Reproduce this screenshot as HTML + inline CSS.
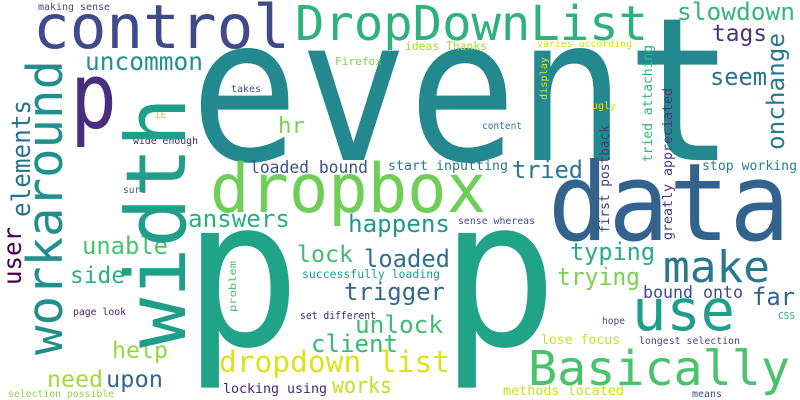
<!DOCTYPE html>
<html><head><meta charset="utf-8"><style>
html,body{margin:0;padding:0;background:#fff}
svg{display:block}
text{font-family:"DejaVu Sans Mono","Liberation Mono",monospace}
</style></head><body>
<svg width="800" height="400" viewBox="0 0 800 400" xmlns="http://www.w3.org/2000/svg">
<rect width="800" height="400" fill="#fff"/>
<g>
<text x="190" y="160" font-size="200" fill="#23898e" textLength="545" lengthAdjust="spacingAndGlyphs">event</text>
<text x="183" y="345" font-size="205" fill="#20a386" textLength="118" lengthAdjust="spacingAndGlyphs">p</text>
<text x="440" y="345" font-size="205" fill="#20a386" textLength="118" lengthAdjust="spacingAndGlyphs">p</text>
<text x="70" y="128" font-size="92" fill="#472f7d" textLength="47" lengthAdjust="spacingAndGlyphs">p</text>
<text x="548" y="240" font-size="108" fill="#33638d" textLength="242" lengthAdjust="spacingAndGlyphs">data</text>
<text x="33" y="48" font-size="61" fill="#3e4a89" textLength="257" lengthAdjust="spacingAndGlyphs">control</text>
<text x="295" y="40" font-size="48" fill="#2db27d" textLength="353" lengthAdjust="spacingAndGlyphs">DropDownList</text>
<text x="677" y="20" font-size="24" fill="#35b779" textLength="118" lengthAdjust="spacingAndGlyphs">slowdown</text>
<text x="712" y="41" font-size="23" fill="#46337e" textLength="55" lengthAdjust="spacingAndGlyphs">tags</text>
<text x="710" y="85" font-size="24" fill="#2c728e" textLength="57" lengthAdjust="spacingAndGlyphs">seem</text>
<text x="405" y="50" font-size="11.5" fill="#a0da39" textLength="82" lengthAdjust="spacingAndGlyphs">ideas Thanks</text>
<text x="537" y="47" font-size="10" fill="#d0e11c" textLength="95" lengthAdjust="spacingAndGlyphs">varies according</text>
<text x="592" y="109" font-size="10" fill="#d8e219" textLength="24" lengthAdjust="spacingAndGlyphs">ugly</text>
<text x="482" y="129" font-size="9.5" fill="#2a768e" textLength="40" lengthAdjust="spacingAndGlyphs">content</text>
<text x="702" y="170" font-size="13" fill="#287d8e" textLength="95" lengthAdjust="spacingAndGlyphs">stop working</text>
<text x="512" y="178" font-size="24" fill="#2a788e" textLength="71" lengthAdjust="spacingAndGlyphs">tried</text>
<text x="388" y="170" font-size="13.3" fill="#2a788e" textLength="120" lengthAdjust="spacingAndGlyphs">start inputting</text>
<text x="250" y="173" font-size="16.4" fill="#3b528b" textLength="118" lengthAdjust="spacingAndGlyphs">loaded bound</text>
<text x="231" y="92" font-size="10" fill="#3e4c8a" textLength="30" lengthAdjust="spacingAndGlyphs">takes</text>
<text x="335" y="65" font-size="10.5" fill="#7ad151" textLength="47" lengthAdjust="spacingAndGlyphs">Firefox</text>
<text x="155" y="118" font-size="10" fill="#a5db36" textLength="11" lengthAdjust="spacingAndGlyphs">IE</text>
<text x="133" y="144" font-size="10" fill="#482475" textLength="65" lengthAdjust="spacingAndGlyphs">wide enough</text>
<text x="123" y="193" font-size="9.5" fill="#3b528b" textLength="23" lengthAdjust="spacingAndGlyphs">sure</text>
<text x="38" y="10" font-size="10" fill="#414487" textLength="72" lengthAdjust="spacingAndGlyphs">making sense</text>
<text x="85" y="70" font-size="24.5" fill="#21918c" textLength="118" lengthAdjust="spacingAndGlyphs">uncommon</text>
<text x="278" y="133" font-size="22" fill="#7ad151" textLength="27" lengthAdjust="spacingAndGlyphs">hr</text>
<text x="210" y="212" font-size="68" fill="#6ece58" textLength="276" lengthAdjust="spacingAndGlyphs">dropbox</text>
<text x="188" y="227" font-size="24" fill="#29af7f" textLength="102" lengthAdjust="spacingAndGlyphs">answers</text>
<text x="348" y="232" font-size="24" fill="#1f988b" textLength="102" lengthAdjust="spacingAndGlyphs">happens</text>
<text x="82" y="254" font-size="24" fill="#4ac16d" textLength="86" lengthAdjust="spacingAndGlyphs">unable</text>
<text x="297" y="262" font-size="23" fill="#3fbc73" textLength="56" lengthAdjust="spacingAndGlyphs">lock</text>
<text x="364" y="267" font-size="24" fill="#2c728e" textLength="86" lengthAdjust="spacingAndGlyphs">loaded</text>
<text x="70" y="283" font-size="23" fill="#2ab07f" textLength="55" lengthAdjust="spacingAndGlyphs">side</text>
<text x="302" y="278" font-size="11.5" fill="#1f988b" textLength="138" lengthAdjust="spacingAndGlyphs">successfully loading</text>
<text x="344" y="300" font-size="24" fill="#31688e" textLength="101" lengthAdjust="spacingAndGlyphs">trigger</text>
<text x="570" y="260" font-size="24" fill="#25ac82" textLength="85" lengthAdjust="spacingAndGlyphs">typing</text>
<text x="663" y="282" font-size="44" fill="#2a788e" textLength="107" lengthAdjust="spacingAndGlyphs">make</text>
<text x="557" y="285" font-size="24" fill="#7ad151" textLength="83" lengthAdjust="spacingAndGlyphs">trying</text>
<text x="643" y="298" font-size="16.7" fill="#3e4a89" textLength="100" lengthAdjust="spacingAndGlyphs">bound onto</text>
<text x="752" y="305" font-size="24" fill="#33638d" textLength="43" lengthAdjust="spacingAndGlyphs">far</text>
<text x="632" y="330" font-size="57" fill="#1f9e89" textLength="103" lengthAdjust="spacingAndGlyphs">use</text>
<text x="300" y="319" font-size="10.5" fill="#482878" textLength="76" lengthAdjust="spacingAndGlyphs">set different</text>
<text x="73" y="315" font-size="10" fill="#482475" textLength="53" lengthAdjust="spacingAndGlyphs">page look</text>
<text x="355" y="333" font-size="24" fill="#3fbc73" textLength="88" lengthAdjust="spacingAndGlyphs">unlock</text>
<text x="311" y="352" font-size="24" fill="#37b878" textLength="87" lengthAdjust="spacingAndGlyphs">client</text>
<text x="112" y="358" font-size="23" fill="#93d741" textLength="56" lengthAdjust="spacingAndGlyphs">help</text>
<text x="602" y="324" font-size="9.5" fill="#3e4c8a" textLength="23" lengthAdjust="spacingAndGlyphs">hope</text>
<text x="778" y="319" font-size="9.5" fill="#26ad81" textLength="17" lengthAdjust="spacingAndGlyphs">CSS</text>
<text x="541" y="344" font-size="13" fill="#c8e020" textLength="79" lengthAdjust="spacingAndGlyphs">lose focus</text>
<text x="639" y="344" font-size="10" fill="#414487" textLength="101" lengthAdjust="spacingAndGlyphs">longest selection</text>
<text x="219" y="372" font-size="29.6" fill="#dde318" textLength="231" lengthAdjust="spacingAndGlyphs">dropdown list</text>
<text x="528" y="385" font-size="48.5" fill="#4ac16d" textLength="262" lengthAdjust="spacingAndGlyphs">Basically</text>
<text x="47" y="387" font-size="23" fill="#a0da39" textLength="56" lengthAdjust="spacingAndGlyphs">need</text>
<text x="106" y="387" font-size="23" fill="#31688e" textLength="57" lengthAdjust="spacingAndGlyphs">upon</text>
<text x="332" y="393" font-size="22" fill="#c2df23" textLength="60" lengthAdjust="spacingAndGlyphs">works</text>
<text x="223" y="393" font-size="13.3" fill="#482475" textLength="104" lengthAdjust="spacingAndGlyphs">locking using</text>
<text x="503" y="395" font-size="13.4" fill="#c8e020" textLength="121" lengthAdjust="spacingAndGlyphs">methods located</text>
<text x="692" y="397" font-size="9.5" fill="#3e4a89" textLength="30" lengthAdjust="spacingAndGlyphs">means</text>
<text x="8" y="397" font-size="9.8" fill="#89d548" textLength="106" lengthAdjust="spacingAndGlyphs">selection possible</text>
<text x="458" y="224" font-size="10" fill="#3e4c8a" textLength="77" lengthAdjust="spacingAndGlyphs">sense whereas</text>
<text transform="translate(62,355) rotate(-90)" font-size="49" fill="#21908d" textLength="295" lengthAdjust="spacingAndGlyphs">workaround</text>
<text transform="translate(185,348) rotate(-90)" font-size="83" fill="#1f9e89" textLength="251" lengthAdjust="spacingAndGlyphs">width</text>
<text transform="translate(30,217) rotate(-90)" font-size="26" fill="#2c718e" textLength="117" lengthAdjust="spacingAndGlyphs">elements</text>
<text transform="translate(21,285) rotate(-90)" font-size="25" fill="#440154" textLength="58" lengthAdjust="spacingAndGlyphs">user</text>
<text transform="translate(784,150) rotate(-90)" font-size="24" fill="#2a788e" textLength="117" lengthAdjust="spacingAndGlyphs">onchange</text>
<text transform="translate(652,162) rotate(-90)" font-size="13" fill="#2fb47c" textLength="117" lengthAdjust="spacingAndGlyphs">tried attaching</text>
<text transform="translate(672,240) rotate(-90)" font-size="13" fill="#443983" textLength="152" lengthAdjust="spacingAndGlyphs">greatly appreciated</text>
<text transform="translate(609,233) rotate(-90)" font-size="13" fill="#453781" textLength="108" lengthAdjust="spacingAndGlyphs">first postback</text>
<text transform="translate(547,100) rotate(-90)" font-size="10" fill="#dde318" textLength="43" lengthAdjust="spacingAndGlyphs">display</text>
<text transform="translate(236,312) rotate(-90)" font-size="10" fill="#4ac16d" textLength="51" lengthAdjust="spacingAndGlyphs">problem</text>
</g>
</svg>
</body></html>
